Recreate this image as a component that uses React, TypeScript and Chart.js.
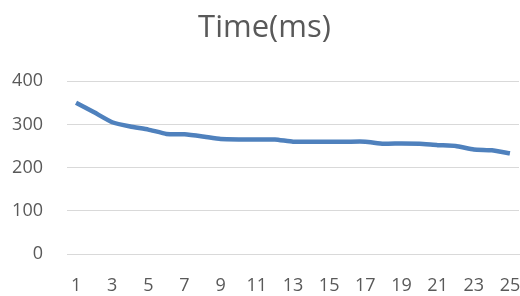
import React, { useEffect, useRef } from "react";
import { Chart, registerables } from "chart.js";

Chart.register(...registerables);

const categories: string[] = Array.from({ length: 25 }, (_, i) => String(i + 1));
const timeValues: number[] = [
  350, 328, 305, 295, 288, 278, 277, 272, 266, 265, 265, 265, 260, 260, 260,
  260, 260, 255, 256, 255, 252, 250, 242, 240, 233,
];
const titleText = "Time(ms)";

export default function App() {
  const ref = useRef<HTMLCanvasElement | null>(null);
  useEffect(() => {
    document.body.style.margin = "0";
    if (!ref.current) return;
    const chart = new Chart(ref.current, {
      type: "line",
      data: {
        labels: categories,
        datasets: [
          {
            label: titleText,
            data: timeValues,
            borderColor: "#4f81bd",
            borderWidth: 4.5,
            pointRadius: 0,
            tension: 0.15,
            fill: false,
          },
        ],
      },
      options: {
        animation: false,
        responsive: false,
        layout: { padding: { left: 10, right: 1, top: 10, bottom: 0 } },
        plugins: {
          legend: { display: false },
          tooltip: { enabled: false },
          title: {
            display: true,
            text: titleText,
            color: "#595959",
            font: { family: "Open Sans", size: 31, weight: "normal" },
            padding: { top: 0, bottom: 34 },
          },
        },
        scales: {
          x: {
            offset: true,
            grid: { display: false, drawTicks: false },
            border: { display: true, color: "#d9d9d9", width: 1 },
            afterFit: (scale: any) => {
              scale.height = 42;
              scale.paddingLeft = 0;
              scale.paddingRight = 0;
            },
            ticks: {
              autoSkip: false,
              maxRotation: 0,
              color: "#595959",
              font: { family: "Open Sans", size: 18 },
              padding: 21,
              callback: (_v, i) => (i % 2 === 0 ? categories[i] : ""),
            },
          },
          y: {
            min: 0,
            max: 400,
            grid: { color: "#d9d9d9", drawTicks: false },
            border: { display: false },
            afterFit: (scale: any) => {
              scale.width = 57;
            },
            ticks: {
              stepSize: 100,
              color: "#595959",
              font: { family: "Open Sans", size: 18 },
              padding: 24,
            },
          },
        },
      },
    });
    return () => chart.destroy();
  }, []);
  return <canvas ref={ref} width={520} height={296} style={{ display: "block" }} />;
}
